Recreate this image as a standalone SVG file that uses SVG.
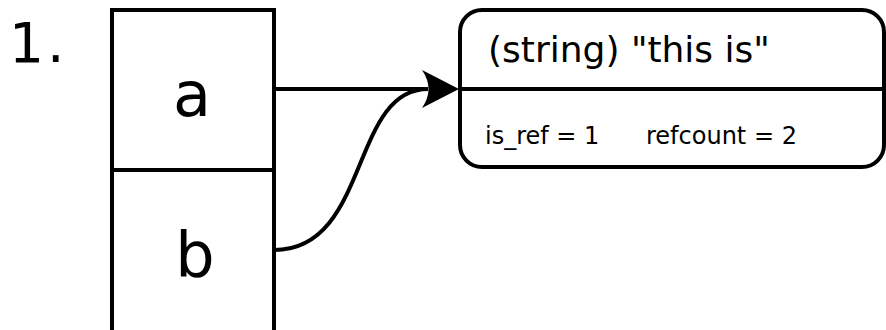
<svg xmlns="http://www.w3.org/2000/svg" width="886" height="330" viewBox="0 0 886 330">
  <style>
    .box { fill: #fff; stroke: #000; stroke-width: 4; }
    .edge { fill: none; stroke: #000; stroke-width: 4; }
    .txt { font-family: "DejaVu Sans", "Liberation Sans", sans-serif; fill: #000; }
  </style>

  <rect width="886" height="330" fill="#fff"/>

  <text class="txt" x="9" y="62" font-size="55" letter-spacing="3">1.</text>

  <!-- variable table: a and b -->
  <g id="var-a">
    <rect class="box" x="112" y="10" width="162" height="160"/>
    <text class="txt" x="192" y="116" font-size="62" text-anchor="middle">a</text>
  </g>
  <g id="var-b">
    <rect class="box" x="112" y="170" width="162" height="165"/>
    <text class="txt" x="195" y="276" font-size="62" text-anchor="middle">b</text>
  </g>

  <!-- zval container -->
  <g id="zval">
    <rect class="box" x="460" y="10" width="424" height="157" rx="22" ry="22"/>
    <line class="edge" x1="460" y1="89" x2="884" y2="89"/>
    <text class="txt" x="488" y="61.5" font-size="36" fill="#2a2a2a">(string) "this is"</text>
    <text class="txt" y="144" font-size="24"><tspan x="485">is_ref = 1</tspan><tspan x="646">refcount = 2</tspan></text>
  </g>

  <!-- references -->
  <g id="connectors">
    <path class="edge" d="M274,89 L425,89"/>
    <path class="edge" d="M274,250 C370,250 350,89 428,89"/>
    <path d="M459,89 L422,70 Q435,89 422,108 Z" fill="#000"/>
  </g>
</svg>
